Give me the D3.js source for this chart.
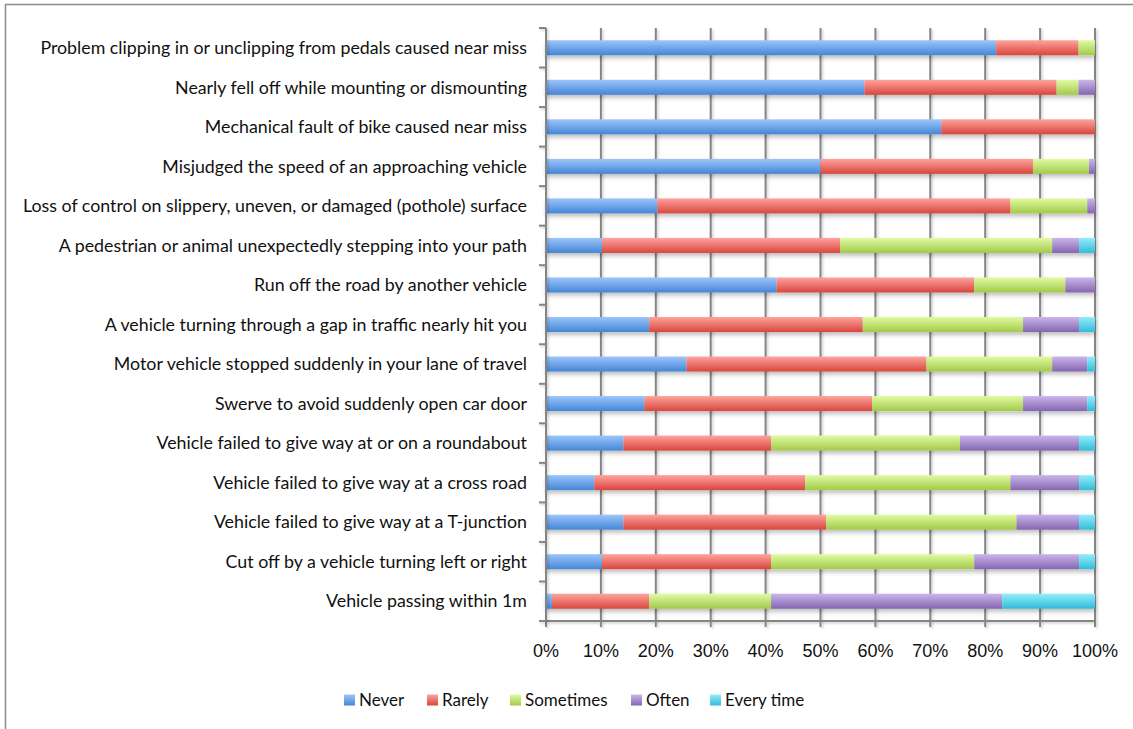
<!DOCTYPE html>
<html lang="en">
<head>
    <meta charset="UTF-8">
    <title>Near miss frequency</title>
    <style>
        body {
            margin: 0;
            padding: 0;
            background: #fff;
        }
        svg {
            display: block;
        }
        .cat-label {
            font-family: 'Lato', 'Open Sans', sans-serif;
            font-size: 17.8px;
            fill: #111;
        }
        .tick-label {
            font-family: 'Liberation Sans', Arial, sans-serif;
            font-size: 18px;
            fill: #111;
        }
        .legend-label {
            font-family: 'Lato', 'Open Sans', sans-serif;
            font-size: 17px;
            fill: #111;
        }
    </style>
</head>
<body>

<svg id="chart" width="1133" height="729"></svg>

<script src="https://d3js.org/d3.v7.min.js"></script>
<script>
    // categories, top to bottom
    const categories = [
        "Problem clipping in or unclipping from pedals caused near miss",
        "Nearly fell off while mounting or dismounting",
        "Mechanical fault of bike caused near miss",
        "Misjudged the speed of an approaching vehicle",
        "Loss of control on slippery, uneven, or damaged (pothole) surface",
        "A pedestrian or animal unexpectedly stepping into your path",
        "Run off the road by another vehicle",
        "A vehicle turning through a gap in traffic nearly hit you",
        "Motor vehicle stopped suddenly in your lane of travel",
        "Swerve to avoid suddenly open car door",
        "Vehicle failed to give way at or on a roundabout",
        "Vehicle failed to give way at a cross road",
        "Vehicle failed to give way at a T-junction",
        "Cut off by a vehicle turning left or right",
        "Vehicle passing within 1m"
    ];

    // shares in percent
    const never     = [82, 58, 72, 50, 20.3, 10.2, 42, 18.8, 25.6, 17.9, 14.1, 8.8, 14.1, 10.2, 1.1];
    const rarely    = [15, 35, 28, 38.7, 64.3, 43.4, 36, 38.9, 43.7, 41.5, 26.9, 38.4, 36.9, 30.8, 17.7];
    const sometimes = [3, 4, 0, 10.2, 14, 38.6, 16.6, 29.2, 22.9, 27.5, 34.4, 37.4, 34.7, 37, 22.2];
    const often     = [0, 3, 0, 1.1, 1.4, 4.9, 5.4, 10.2, 6.4, 11.7, 21.7, 12.5, 11.4, 19.1, 42.1];
    const everyTime = [0, 0, 0, 0, 0, 2.9, 0, 2.9, 1.4, 1.4, 2.9, 2.9, 2.9, 2.9, 16.9];

    const seriesNames = ["Never", "Rarely", "Sometimes", "Often", "Every time"];
    const xTicks = [0, 10, 20, 30, 40, 50, 60, 70, 80, 90, 100];

    // top and bottom colours of each series gradient
    const colors = [
        ["#9cc5fb", "#4586d6"],
        ["#ffa39e", "#d8463d"],
        ["#e0fba2", "#a3c94a"],
        ["#cbb5ec", "#8466b0"],
        ["#94ecfb", "#31bcd9"]
    ];

    const svg = d3.select("#chart");
    const defs = svg.append("defs");

    colors.forEach((c, i) => {
        const g = defs.append("linearGradient")
            .attr("id", "grad" + i)
            .attr("x1", 0).attr("y1", 0).attr("x2", 0).attr("y2", 1);
        g.append("stop").attr("offset", "0%").attr("stop-color", c[0]);
        g.append("stop").attr("offset", "100%").attr("stop-color", c[1]);
    });

    // soft shadow under bars and grid lines
    defs.append("filter").attr("id", "shadow")
        .attr("x", "-5%").attr("y", "-40%").attr("width", "110%").attr("height", "200%")
        .html(`<feDropShadow dx="0" dy="3" stdDeviation="2" flood-color="#000" flood-opacity="0.25"/>`);
    defs.append("filter").attr("id", "lineShadow")
        .attr("filterUnits", "userSpaceOnUse")
        .attr("x", 0).attr("y", 0).attr("width", 1133).attr("height", 729)
        .html(`<feDropShadow dx="1.5" dy="1.5" stdDeviation="1" flood-color="#000" flood-opacity="0.2"/>`);

    // outer frame
    svg.append("rect")
        .attr("x", 5.5).attr("y", 4.5)
        .attr("width", 1140).attr("height", 740)
        .attr("fill", "none")
        .attr("stroke", "#8c8c8c")
        .attr("stroke-width", 1.5);

    const plotTop = 28, plotBottom = 621;
    const x = d3.scaleLinear().domain([0, 100]).range([546, 1095]);
    const y = d3.scaleBand()
        .domain(categories)
        .range([plotTop, plotBottom])
        .paddingInner(0.62)
        .paddingOuter(0.31);

    const lineColor = "#858585";

    // vertical grid lines
    svg.append("g")
        .attr("filter", "url(#lineShadow)")
        .selectAll("line")
        .data(xTicks.slice(1))
        .join("line")
        .attr("x1", d => x(d)).attr("x2", d => x(d))
        .attr("y1", plotTop).attr("y2", plotBottom)
        .attr("stroke", lineColor)
        .attr("stroke-width", 2);

    // x axis line with ticks
    const xAxis = svg.append("g").attr("filter", "url(#lineShadow)");
    xAxis.append("line")
        .attr("x1", x(0)).attr("x2", x(100))
        .attr("y1", plotBottom).attr("y2", plotBottom)
        .attr("stroke", lineColor)
        .attr("stroke-width", 2);
    xAxis.selectAll(".xtick")
        .data(xTicks)
        .join("line")
        .attr("class", "xtick")
        .attr("x1", d => x(d)).attr("x2", d => x(d))
        .attr("y1", plotBottom).attr("y2", plotBottom + 6)
        .attr("stroke", lineColor)
        .attr("stroke-width", 2);

    // stacked bars
    const rows = categories.map((c, i) => ({
        cat: c,
        "Never": never[i],
        "Rarely": rarely[i],
        "Sometimes": sometimes[i],
        "Often": often[i],
        "Every time": everyTime[i]
    }));
    const stack = d3.stack().keys(seriesNames)(rows);

    svg.append("g")
        .attr("filter", "url(#shadow)")
        .selectAll("g")
        .data(stack)
        .join("g")
        .attr("fill", (d, i) => "url(#grad" + i + ")")
        .selectAll("rect")
        .data(d => d)
        .join("rect")
        .attr("x", d => x(d[0]))
        .attr("width", d => Math.max(0, x(d[1]) - x(d[0])))
        .attr("y", d => y(d.data.cat))
        .attr("height", y.bandwidth());

    // y axis line and ticks
    const yAxis = svg.append("g").attr("filter", "url(#lineShadow)");
    yAxis.append("line")
        .attr("x1", 546).attr("x2", 546)
        .attr("y1", plotTop).attr("y2", plotBottom)
        .attr("stroke", lineColor)
        .attr("stroke-width", 2);
    const bounds = categories.map(c => y(c) - y.step() * y.paddingInner() / 2);
    bounds.push(plotBottom);
    yAxis.selectAll(".ytick")
        .data(bounds)
        .join("line")
        .attr("class", "ytick")
        .attr("x1", 539).attr("x2", 546)
        .attr("y1", d => d).attr("y2", d => d)
        .attr("stroke", lineColor)
        .attr("stroke-width", 2);

    // category labels
    svg.append("g")
        .selectAll("text")
        .data(categories)
        .join("text")
        .attr("class", "cat-label")
        .attr("x", 527)
        .attr("y", d => y(d) + y.bandwidth() / 2)
        .attr("dy", "0.35em")
        .attr("text-anchor", "end")
        .text(d => d);

    // x tick labels
    svg.append("g")
        .selectAll("text")
        .data(xTicks)
        .join("text")
        .attr("class", "tick-label")
        .attr("x", d => x(d))
        .attr("y", 657)
        .attr("text-anchor", "middle")
        .text(d => d + "%");

    // legend
    const legendX = [344, 427, 510, 631, 710];
    const legend = svg.append("g")
        .selectAll("g")
        .data(seriesNames)
        .join("g")
        .attr("transform", (d, i) => `translate(${legendX[i]},700)`);
    legend.append("rect")
        .attr("x", 0).attr("y", -5.5)
        .attr("width", 11).attr("height", 11)
        .attr("fill", (d, i) => "url(#grad" + i + ")");
    legend.append("text")
        .attr("class", "legend-label")
        .attr("x", 15)
        .attr("dy", "0.35em")
        .text(d => d);
</script>

</body>
</html>
